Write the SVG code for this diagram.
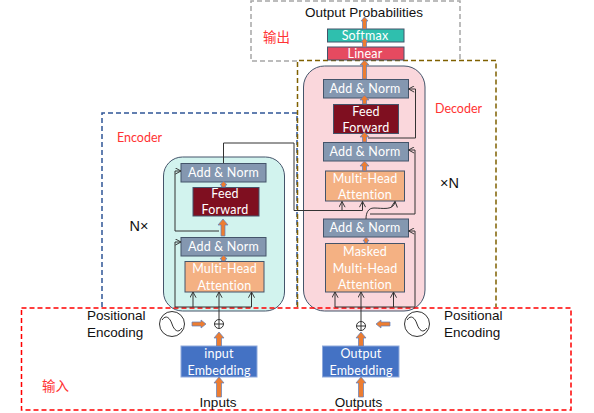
<svg xmlns="http://www.w3.org/2000/svg" width="594" height="413" viewBox="0 0 594 413">
<style>
.box{stroke:#44546a;stroke-width:1}
.an{fill:#8497b0}
.ma{fill:#f4b183;stroke:#44546a;stroke-width:1}
.ff{fill:#7f0f20;stroke:#44546a;stroke-width:1}
.emb{fill:#4472c4;stroke:#8faadc;stroke-width:1}
.w{font-family:"Lato","Open Sans",sans-serif;font-size:12.5px;fill:#fff;text-anchor:middle;letter-spacing:.2px}
.b{font-family:"Liberation Sans",sans-serif;font-size:13.5px;fill:#111}
.n{font-family:"Liberation Sans",sans-serif;font-size:14.5px;fill:#111}
.r{font-family:"Lato",sans-serif;font-size:12.5px;fill:#f33}
.c{font-family:"Noto Sans CJK SC",sans-serif;font-size:13.5px;fill:#f33}
.panel{stroke:#44546a;stroke-width:1}
.dash{fill:none;stroke-width:1.5;stroke-dasharray:5 3}
.ln{fill:none;stroke:#333;stroke-width:1}
.ba{fill:#ed7d31;stroke:#5b7fc0;stroke-width:.7}
.sym{fill:none;stroke:#333;stroke-width:1}
</style>
<defs>
<marker id="o" viewBox="0 0 8 8" refX="7.5" refY="4" markerWidth="7" markerHeight="7" markerUnits="userSpaceOnUse" orient="auto"><path d="M1 .5 7.5 4 1 7.5" fill="none" stroke="#333" stroke-width="1.1"/></marker>
</defs>
<g id="encoder-panel"><rect class="panel" x="163.500" y="157" width="121" height="154" rx="19" fill="#d2f3ee"/></g>
<g id="decoder-panel"><rect class="panel" x="303.500" y="66" width="121.500" height="245" rx="21" fill="#fad7dc"/></g>
<g id="encoder-region"><path class="dash" stroke="#2f5597" d="M102 307V113H297V307"/><text class="r" x="117" y="142">Encoder</text><text class="n" x="129.500" y="231">N×</text></g>
<g id="decoder-region"><path class="dash" stroke="#7f6000" d="M297.500 307V60.500H496V307"/><text class="r" x="435" y="113">Decoder</text><text class="n" x="440" y="188">×N</text></g>
<g id="output-region"><path class="dash" stroke="#a6a6a6" d="M297 61H251V1H460V60"/><text class="c" x="263" y="42">输出</text></g>
<g id="input-region"><rect class="dash" stroke="#f00" x="21.500" y="308" width="549.500" height="102"/><text class="c" x="42" y="391">输入</text></g>
<g id="softmax"><rect class="box" fill="#2fbfae" x="327.500" y="29" width="76.500" height="13"/><text class="w" x="365" y="40">Softmax</text></g>
<g id="linear"><rect class="box" fill="#e64a60" x="327.500" y="47" width="76.500" height="13"/><text class="w" x="365" y="58">Linear</text></g>
<g id="dec-addnorm-3"><rect class="box an" x="323.500" y="79.500" width="85" height="18.500"/><text class="w" x="365" y="93">Add &amp; Norm</text></g>
<g id="dec-feed-forward"><rect class="ff" x="333.500" y="104.500" width="65" height="29"/><text class="w" x="366" y="116">Feed</text><text class="w" x="366" y="132">Forward</text></g>
<g id="dec-addnorm-2"><rect class="box an" x="323.500" y="142.500" width="85" height="18.500"/><text class="w" x="365" y="156">Add &amp; Norm</text></g>
<g id="dec-attention"><rect class="ma" x="325.500" y="171" width="79" height="30"/><text class="w" x="365" y="183">Multi-Head</text><text class="w" x="365" y="199">Attention</text></g>
<g id="dec-addnorm-1"><rect class="box an" x="323.500" y="219" width="85" height="18"/><text class="w" x="365" y="232">Add &amp; Norm</text></g>
<g id="dec-masked"><rect class="ma" x="325.500" y="243.500" width="79" height="48.500"/><text class="w" x="365" y="256">Masked</text><text class="w" x="365" y="273">Multi-Head</text><text class="w" x="365" y="289">Attention</text></g>
<g id="enc-addnorm-2"><rect class="box an" x="181" y="163.500" width="85" height="18.500"/><text class="w" x="223.500" y="177">Add &amp; Norm</text></g>
<g id="enc-feed-forward"><rect class="ff" x="193" y="187.500" width="66" height="28.500"/><text class="w" x="225" y="198">Feed</text><text class="w" x="225" y="214">Forward</text></g>
<g id="enc-addnorm-1"><rect class="box an" x="181" y="237.500" width="85" height="18.500"/><text class="w" x="223.500" y="251">Add &amp; Norm</text></g>
<g id="enc-attention"><rect class="ma" x="185" y="261.500" width="79" height="30.500"/><text class="w" x="224.500" y="273">Multi-Head</text><text class="w" x="224.500" y="290">Attention</text></g>
<g id="input-embedding"><rect class="emb" x="181" y="346" width="76" height="31"/><text class="w" x="219" y="358">input</text><text class="w" x="219" y="375">Embedding</text></g>
<g id="output-embedding"><rect class="emb" x="322.500" y="346" width="76.500" height="31"/><text class="w" x="361" y="358">Output</text><text class="w" x="361" y="375">Embedding</text></g>
<g id="pe-left"><circle class="sym" cx="172" cy="324" r="12.500"/><path class="sym" d="M162 320C166 314 170 318 172 324S178 334 182 328"/><text class="b" x="87" y="320">Positional</text><text class="b" x="87" y="337">Encoding</text></g>
<g id="pe-right"><circle class="sym" cx="417" cy="324" r="12.500"/><path class="sym" d="M407 320C411 314 415 318 417 324S423 334 427 328"/><text class="b" x="444" y="320">Positional</text><text class="b" x="444" y="337">Encoding</text></g>
<g id="add-left"><circle class="sym" cx="219" cy="324" r="4.500"/><path class="sym" d="M214.500 324H223.500M219 319.500V328.500"/></g>
<g id="add-right"><circle class="sym" cx="361" cy="326" r="4.500"/><path class="sym" d="M356.500 326H365.500M361 321.500V330.500"/></g>
<g id="labels"><text class="b" x="364" y="17" text-anchor="middle">Output Probabilities</text><text class="b" x="218" y="407" text-anchor="middle">Inputs</text><text class="b" x="358.500" y="407" text-anchor="middle">Outputs</text></g>
<g id="connectors">
<path class="ln" d="M223.500 163V143H294V210.500H362.500"/>
<path class="ln" marker-end="url(#o)" d="M342 210.500V201.500"/>
<path class="ln" marker-end="url(#o)" d="M362.500 210.500V201.500"/>
<path class="ln" marker-end="url(#o)" d="M366 219C366 213 368 208 374 208C382 208 394 211 395 201.500"/>
<path class="ln" marker-end="url(#o)" d="M368 138H415.500V89H408.500"/>
<path class="ln" marker-end="url(#o)" d="M370 214H415V150H408.500"/>
<path class="ln" marker-end="url(#o)" d="M335 307H415V231H408.500"/>
<path class="ln" marker-end="url(#o)" d="M335 307V292"/>
<path class="ln" marker-end="url(#o)" d="M393.500 307V292"/>
<path class="ln" marker-end="url(#o)" d="M361 321V292"/>
<path class="ln" marker-end="url(#o)" d="M219 319V292"/>
<path class="ln" marker-end="url(#o)" d="M193 307V292"/>
<path class="ln" marker-end="url(#o)" d="M175 307H251.500V292"/>
<path class="ln" marker-end="url(#o)" d="M175 307V242H181"/>
<path class="ln" marker-end="url(#o)" d="M219 231H175V171H181"/>
<polygon class="ba" points="362.500,29 362.500,21 361,21 364.500,17 368,21 366.500,21 366.500,29"/>
<polygon class="ba" points="362.500,47 362.500,42 361,42 364.500,38 368,42 366.500,42 366.500,47"/>
<polygon class="ba" points="362.500,79 362.500,65 360,65 364.500,60 369,65 366.500,65 366.500,79"/>
<polygon class="ba" points="362.500,104 362.500,100 360,100 364.500,95 369,100 366.500,100 366.500,104"/>
<polygon class="ba" points="362.500,142 362.500,137 360,137 364.500,132 369,137 366.500,137 366.500,142"/>
<polygon class="ba" points="362.500,171 362.500,166 360,166 364.500,161 369,166 366.500,166 366.500,171"/>
<polygon class="ba" points="364.500,243 364.500,241 363,241 366,237 369,241 367.500,241 367.500,243"/>
<polygon class="ba" points="221.500,187 221.500,185 220,185 223.500,181 227,185 225.500,185 225.500,187"/>
<polygon class="ba" points="221,236 221,225 218,225 223,219 228,225 225,225 225,236"/>
<polygon class="ba" points="221.500,261 221.500,259 220,259 223.500,255 227,259 225.500,259 225.500,261"/>
<polygon class="ba" points="216.500,346 216.500,338 214,338 219,332 224,338 221.500,338 221.500,346"/>
<polygon class="ba" points="216.500,397 216.500,383 214,383 219,377 224,383 221.500,383 221.500,397"/>
<polygon class="ba" points="358.500,346 358.500,338 356,338 361,332 366,338 363.500,338 363.500,346"/>
<polygon class="ba" points="358.500,397 358.500,383 356,383 361,377 366,383 363.500,383 363.500,397"/>
<polygon class="ba" points="192,322 201,322 201,320 206,324 201,328 201,326 192,326"/>
<polygon class="ba" points="390,322 381,322 381,320 376,324 381,328 381,326 390,326"/>
</g>
</svg>
